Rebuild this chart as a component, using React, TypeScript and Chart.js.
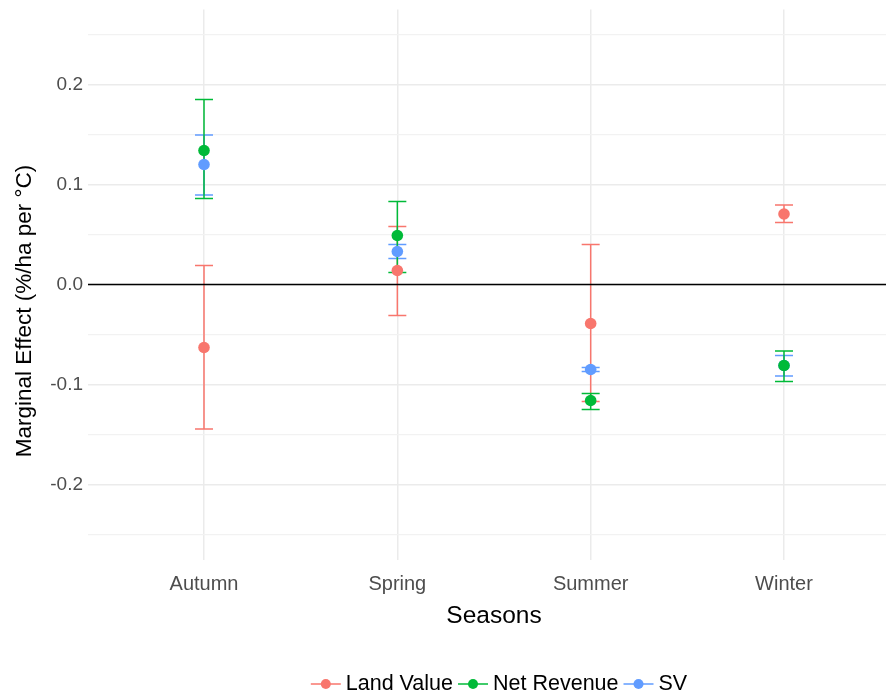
import { useEffect, useRef } from 'react';
import { Chart, registerables } from 'chart.js';

Chart.register(...registerables);

const seasons = ['Autumn', 'Spring', 'Summer', 'Winter'];
const seriesNames = ['Land Value', 'Net Revenue', 'SV'];
const seriesColors = ['#F8766D', '#00BA38', '#619CFF'];

const landValue = [-0.063, 0.014, -0.039, 0.0705];
const landValueLow = [-0.1445, -0.031, -0.117, 0.062];
const landValueHigh = [0.019, 0.058, 0.04, 0.0795];

const netRevenue = [0.134, 0.049, -0.116, -0.081];
const netRevenueLow = [0.086, 0.012, -0.125, -0.097];
const netRevenueHigh = [0.185, 0.083, -0.109, -0.0665];

const sv = [0.12, 0.033, -0.085, -0.081];
const svLow = [0.0895, 0.026, -0.087, -0.0915];
const svHigh = [0.1495, 0.04, -0.083, -0.071];

const yTicks = [-0.25, -0.2, -0.15, -0.1, -0.05, 0, 0.05, 0.1, 0.15, 0.2, 0.25];
const yMajor = [-0.2, -0.1, 0, 0.1, 0.2];

const yTitle = 'Marginal Effect (%/ha per °C)';
const xTitle = 'Seasons';

const FONT = "'Liberation Sans', Arial, sans-serif";

const means = [landValue, netRevenue, sv];
const lows = [landValueLow, netRevenueLow, svLow];
const highs = [landValueHigh, netRevenueHigh, svHigh];
const drawOrder = [0, 2, 1]; // Land Value, SV, Net Revenue (last on top)

const isMajor = (v: number) => yMajor.some((m) => Math.abs(m - v) < 1e-9);

const errorBarPlugin = {
  id: 'errorBars',
  beforeDatasetsDraw(chart: any) {
    const { ctx, chartArea, scales } = chart;
    const xs = scales.x;
    const ys = scales.y;
    ctx.save();
    ctx.beginPath();
    ctx.rect(chartArea.left, chartArea.top, chartArea.right - chartArea.left, chartArea.bottom - chartArea.top);
    ctx.clip();
    ctx.lineWidth = 1.5;
    for (const s of drawOrder) {
      ctx.strokeStyle = seriesColors[s];
      for (let i = 0; i < seasons.length; i++) {
        const x = xs.getPixelForValue(i + 1);
        const y1 = ys.getPixelForValue(lows[s][i]);
        const y2 = ys.getPixelForValue(highs[s][i]);
        const hw = 9;
        ctx.beginPath();
        ctx.moveTo(x, y1);
        ctx.lineTo(x, y2);
        ctx.moveTo(x - hw, y1);
        ctx.lineTo(x + hw, y1);
        ctx.moveTo(x - hw, y2);
        ctx.lineTo(x + hw, y2);
        ctx.stroke();
      }
    }
    // zero reference line
    const y0 = ys.getPixelForValue(0);
    ctx.strokeStyle = '#000000';
    ctx.lineWidth = 1.6;
    ctx.beginPath();
    ctx.moveTo(chartArea.left, y0);
    ctx.lineTo(chartArea.right, y0);
    ctx.stroke();
    ctx.restore();
  },
};

const textPlugin = {
  id: 'customTexts',
  afterDraw(chart: any) {
    const { ctx } = chart;
    ctx.save();
    // y-axis title
    ctx.fillStyle = '#000000';
    ctx.font = `22.5px ${FONT}`;
    ctx.textAlign = 'center';
    ctx.textBaseline = 'alphabetic';
    ctx.translate(31, 311);
    ctx.rotate(-Math.PI / 2);
    ctx.fillText(yTitle, 0, 0);
    ctx.restore();

    // legend
    ctx.save();
    ctx.font = `21.5px ${FONT}`;
    ctx.textBaseline = 'middle';
    const glyphW = 30;
    const gapText = 5;
    const gapItem = 5;
    const widths = seriesNames.map((n) => ctx.measureText(n).width);
    let total = 0;
    widths.forEach((w, i) => {
      total += glyphW + gapText + w + (i < widths.length - 1 ? gapItem : 0);
    });
    let x = 499 - total / 2;
    const y = 684;
    seriesNames.forEach((n, i) => {
      ctx.strokeStyle = seriesColors[i];
      ctx.lineWidth = 1.5;
      ctx.beginPath();
      ctx.moveTo(x, y);
      ctx.lineTo(x + glyphW, y);
      ctx.stroke();
      ctx.fillStyle = seriesColors[i];
      ctx.beginPath();
      ctx.arc(x + glyphW / 2, y, 5, 0, Math.PI * 2);
      ctx.fill();
      x += glyphW + gapText;
      ctx.fillStyle = '#000000';
      ctx.textAlign = 'left';
      ctx.fillText(n, x, y);
      x += widths[i] + gapItem;
    });
    ctx.restore();
  },
};

export default function App() {
  const canvasRef = useRef<HTMLCanvasElement | null>(null);

  useEffect(() => {
    const canvas = canvasRef.current;
    if (!canvas) return;
    const datasets = seriesNames.map((name, s) => ({
      label: name,
      data: seasons.map((_, i) => ({ x: i + 1, y: means[s][i] })),
      backgroundColor: seriesColors[s],
      borderColor: seriesColors[s],
      borderWidth: 0,
      pointRadius: 5.8,
      pointHoverRadius: 5.8,
      showLine: false,
      order: s === 1 ? 1 : s === 2 ? 2 : 3,
    }));

    const chart = new Chart(canvas, {
      type: 'scatter',
      data: { datasets },
      plugins: [errorBarPlugin, textPlugin],
      options: {
        animation: false,
        responsive: false,
        maintainAspectRatio: false,
        layout: { padding: { left: 0, top: 9.5, right: 20, bottom: 0 } },
        plugins: {
          legend: { display: false },
          tooltip: { enabled: false },
        },
        scales: {
          x: {
            type: 'linear',
            min: 0.4,
            max: 4.6,
            afterBuildTicks: (scale: any) => {
              scale.ticks = seasons.map((_, i) => ({ value: i + 1 }));
            },
            afterFit: (scale: any) => {
              scale.height = 136.5;
              scale.paddingLeft = 0;
              scale.paddingRight = 0;
            },
            border: { display: false },
            grid: { color: '#ebebeb', lineWidth: 1.5, drawTicks: false },
            ticks: {
              autoSkip: false,
              maxRotation: 0,
              padding: 12.5,
              color: '#4d4d4d',
              font: { family: FONT, size: 20 },
              callback: (v: any) => seasons[Math.round(Number(v)) - 1] ?? '',
            },
            title: {
              display: true,
              text: xTitle,
              color: '#000000',
              font: { family: FONT, size: 24.5 },
              padding: { top: 0, bottom: 65 },
            },
          },
          y: {
            type: 'linear',
            min: -0.275,
            max: 0.275,
            afterBuildTicks: (scale: any) => {
              scale.ticks = yTicks.map((v) => ({ value: v }));
            },
            afterFit: (scale: any) => {
              scale.width = 88;
              scale.paddingTop = 0;
              scale.paddingBottom = 0;
            },
            border: { display: false },
            grid: {
              drawTicks: false,
              color: (c: any) => (isMajor(c.tick.value) ? '#ebebeb' : '#f2f2f2'),
              lineWidth: (c: any) => (isMajor(c.tick.value) ? 1.5 : 1.2),
            },
            ticks: {
              autoSkip: false,
              padding: 5,
              color: '#4d4d4d',
              font: { family: FONT, size: 19 },
              callback: (v: any) => (isMajor(Number(v)) ? Number(v).toFixed(1) : ''),
            },
          },
        },
      } as any,
    });
    return () => chart.destroy();
  }, []);

  return (
    <div style={{ position: 'absolute', left: 0, top: 0, width: 886, height: 696, overflow: 'hidden', background: '#ffffff' }}>
      <canvas ref={canvasRef} width={920} height={696} style={{ width: 920, height: 696, display: 'block' }} />
    </div>
  );
}
